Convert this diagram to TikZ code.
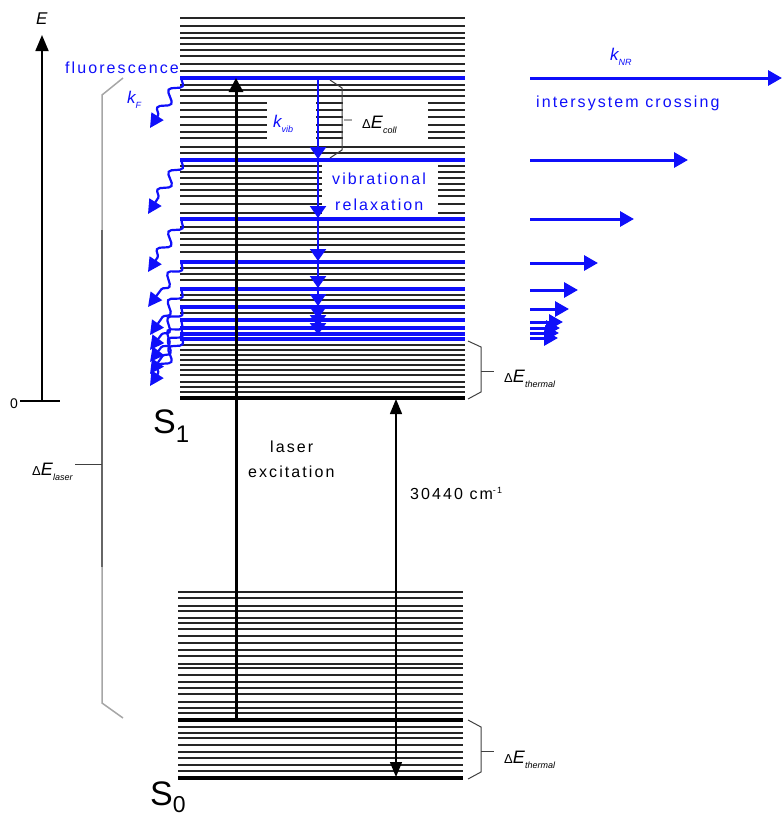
\documentclass[tikz,border=0pt]{standalone}
\usepackage{fontspec}
\setmainfont{Liberation Sans}
\newfontfamily\spc[LetterSpace=13]{Liberation Sans}
\usetikzlibrary{arrows.meta,decorations.pathmorphing}
\definecolor{jblue}{RGB}{15,15,250}
\newcommand\fsz[1]{\fontsize{#1}{#1}\selectfont}
\newcommand\lowsub[1]{\raisebox{-5pt}{\fsz{9}\itshape #1}}
\begin{document}
\begin{tikzpicture}[x=1pt,y=-1pt,
  lvl/.style={line width=1.8pt,black!85},
  thk/.style={line width=3.2pt,black},
  blvl/.style={line width=3.2pt,jblue},
  vibarr/.style={jblue,line width=2.2pt,-{Triangle[length=12pt,width=16pt]}},
  nrarr/.style={jblue,line width=3pt,-{Triangle[length=14pt,width=15pt]}},
  wavy/.style={jblue,line width=2.2pt,decorate,decoration={snake,amplitude=5pt,segment length=21pt,post length=12pt},-{Triangle[length=14pt,width=14pt]}},
  lbl/.style={inner sep=0pt,font=\spc\fsz{16}},
  blbl/.style={lbl,text=jblue},
  symb/.style={inner sep=0pt,font=\fsz{18}},
  brc/.style={line width=1pt,black!75},
]
\useasboundingbox (0,0) rectangle (782,817);
% ---------- S1 band ----------
\foreach \y in {18,26,33,38,44,50,56,64,71,85,90,96,103,110,117,125,132,138,147,153,166,172,178,184,190,196,204,213,227,233,239,245,252,268,274,280,295,300,313,345,350,355,360,365,370,375,382,387,392}
  \draw[lvl] (180,\y) -- (465,\y);
\draw[thk] (180,398) -- (465,398);
% ---------- S0 band ----------
\foreach \y in {592,598,606,611,618,623,629,636,643,650,656,664,668,675,682,688,694,702,708,713,727,733,738,745,752,758,765,771}
  \draw[lvl] (178,\y) -- (463,\y);
\draw[thk] (178,720) -- (463,720);
\draw[thk] (178,778) -- (463,778);
% ---------- label masks ----------
\fill[white] (267,98) rectangle (316,146);
\fill[white] (343,97) rectangle (428,146);
\fill[white] (322,165) rectangle (438,215);
% ---------- blue S1 levels ----------
\foreach \y in {78,160,219,262,289,307,320,328,334,339}
  \draw[blvl] (180,\y) -- (465,\y);
% ---------- coordinates ----------
\coordinate (ex0) at (236,720);
\coordinate (ex1) at (236,78);
\coordinate (g1) at (396,399);
\coordinate (g0) at (396,777);
\coordinate (ax0) at (42,400);
\coordinate (ax1) at (42,35);
% ---------- energy axis ----------
\draw[line width=1.8pt,-{Triangle[length=16pt,width=13pt]}] (ax0) -- (ax1);
\draw[line width=1.2pt] (20,401) -- (60,401);
\node[inner sep=0pt,anchor=base west,font=\fsz{17}\itshape] (elab) at (36,24) {E};
\node[inner sep=0pt,anchor=base west,font=\fsz{14}] (zero) at (10,408) {0};
% ---------- laser excitation ----------
\draw[line width=3pt,-{Triangle[length=14pt,width=14pt]}] (ex0) -- (ex1);
\node[lbl,anchor=base west] (las) at (270,452) {laser};
\node[lbl,anchor=base west] (exc) at (248,477) {excitation};
% ---------- gap arrow ----------
\draw[line width=1.4pt,{Triangle[length=15pt,width=12pt]}-{Triangle[length=15pt,width=12pt]}] (g0) -- (g1);
\node[lbl,anchor=base west] (gap) at (410,499) {30440 cm\raisebox{6pt}{\fsz{9}-1}};
% ---------- vibrational relaxation ----------
\foreach \a/\b in {78/159,160/218,219/261,262/288,289/306,307/319,320/327,328/335}
  \draw[vibarr] (318,\a) -- (318,\b);
\node[blbl,anchor=base west,font=\fsz{17}\itshape] (kvib) at (273,127) {k\lowsub{vib}};
\node[blbl,anchor=base west] (vr1) at (332,184) {vibrational};
\node[blbl,anchor=base west] (vr2) at (335,210) {relaxation};
% coll brace
\draw[brc] (330,80) -- (342,88) -- (342,150) -- (330,158);
\draw[line width=1.5pt,black!35] (344,120) -- (352,120);
\node[symb,anchor=base west] (dcoll) at (362,128) {{\fsz{13}Δ}\textit{E}\lowsub{coll}};
% ---------- fluorescence ----------
\node[blbl,anchor=base east] (fl) at (179,73) {fluorescence};
\node[blbl,anchor=base west,font=\fsz{17}\itshape] (kf) at (127,103) {k\lowsub{F}};
\foreach \a/\ex/\ey in {78/150/128,160/148/214,220/148/272,262/148/307,289/150/335,307/150/350,320/150/362,328/150/374,336/150/386}
  \draw[wavy] (182,\a) -- (\ex,\ey);
% ---------- intersystem crossing ----------
\foreach \y/\xe in {78/782,160/688,219/634,263/598,290/578,309/569,322/563,328/560,333/559,338/558}
  \draw[nrarr] (530,\y) -- (\xe,\y);
\node[blbl,anchor=base west,font=\fsz{17}\itshape] (knr) at (610,60) {k\lowsub{NR}};
\node[blbl,anchor=base west] (isc) at (536,107) {intersystem crossing};
% ---------- thermal braces ----------
\draw[brc] (468,341) -- (481,347) -- (481,392) -- (468,399);
\draw[brc] (481,371) -- (494,371);
\node[symb,anchor=base west] (dth1) at (504,382) {{\fsz{13}Δ}\textit{E}\lowsub{thermal}};
\draw[brc] (468,720) -- (481,727) -- (481,772) -- (468,779);
\draw[brc] (481,751) -- (494,751);
\node[symb,anchor=base west] (dth0) at (504,763) {{\fsz{13}Δ}\textit{E}\lowsub{thermal}};
% ---------- laser bracket ----------
\draw[line width=1.5pt,black!35] (123,78) -- (102,95) -- (102,703) -- (123,718);
\draw[line width=2pt,black!60] (102,230) -- (102,567);
\draw[line width=1pt,black!75] (75,464) -- (102,464);
\node[symb,anchor=base west] (dlas) at (32,475) {{\fsz{13}Δ}\textit{E}\lowsub{laser}};
% ---------- state labels ----------
\node[inner sep=0pt,anchor=base west,font=\fsz{34}] (s1) at (153,433) {S\raisebox{-9pt}{\fsz{24}1}};
\node[inner sep=0pt,anchor=base west,font=\fsz{34}] (s0) at (150,805) {S\raisebox{-7pt}{\fsz{23}0}};
\end{tikzpicture}
\end{document}
